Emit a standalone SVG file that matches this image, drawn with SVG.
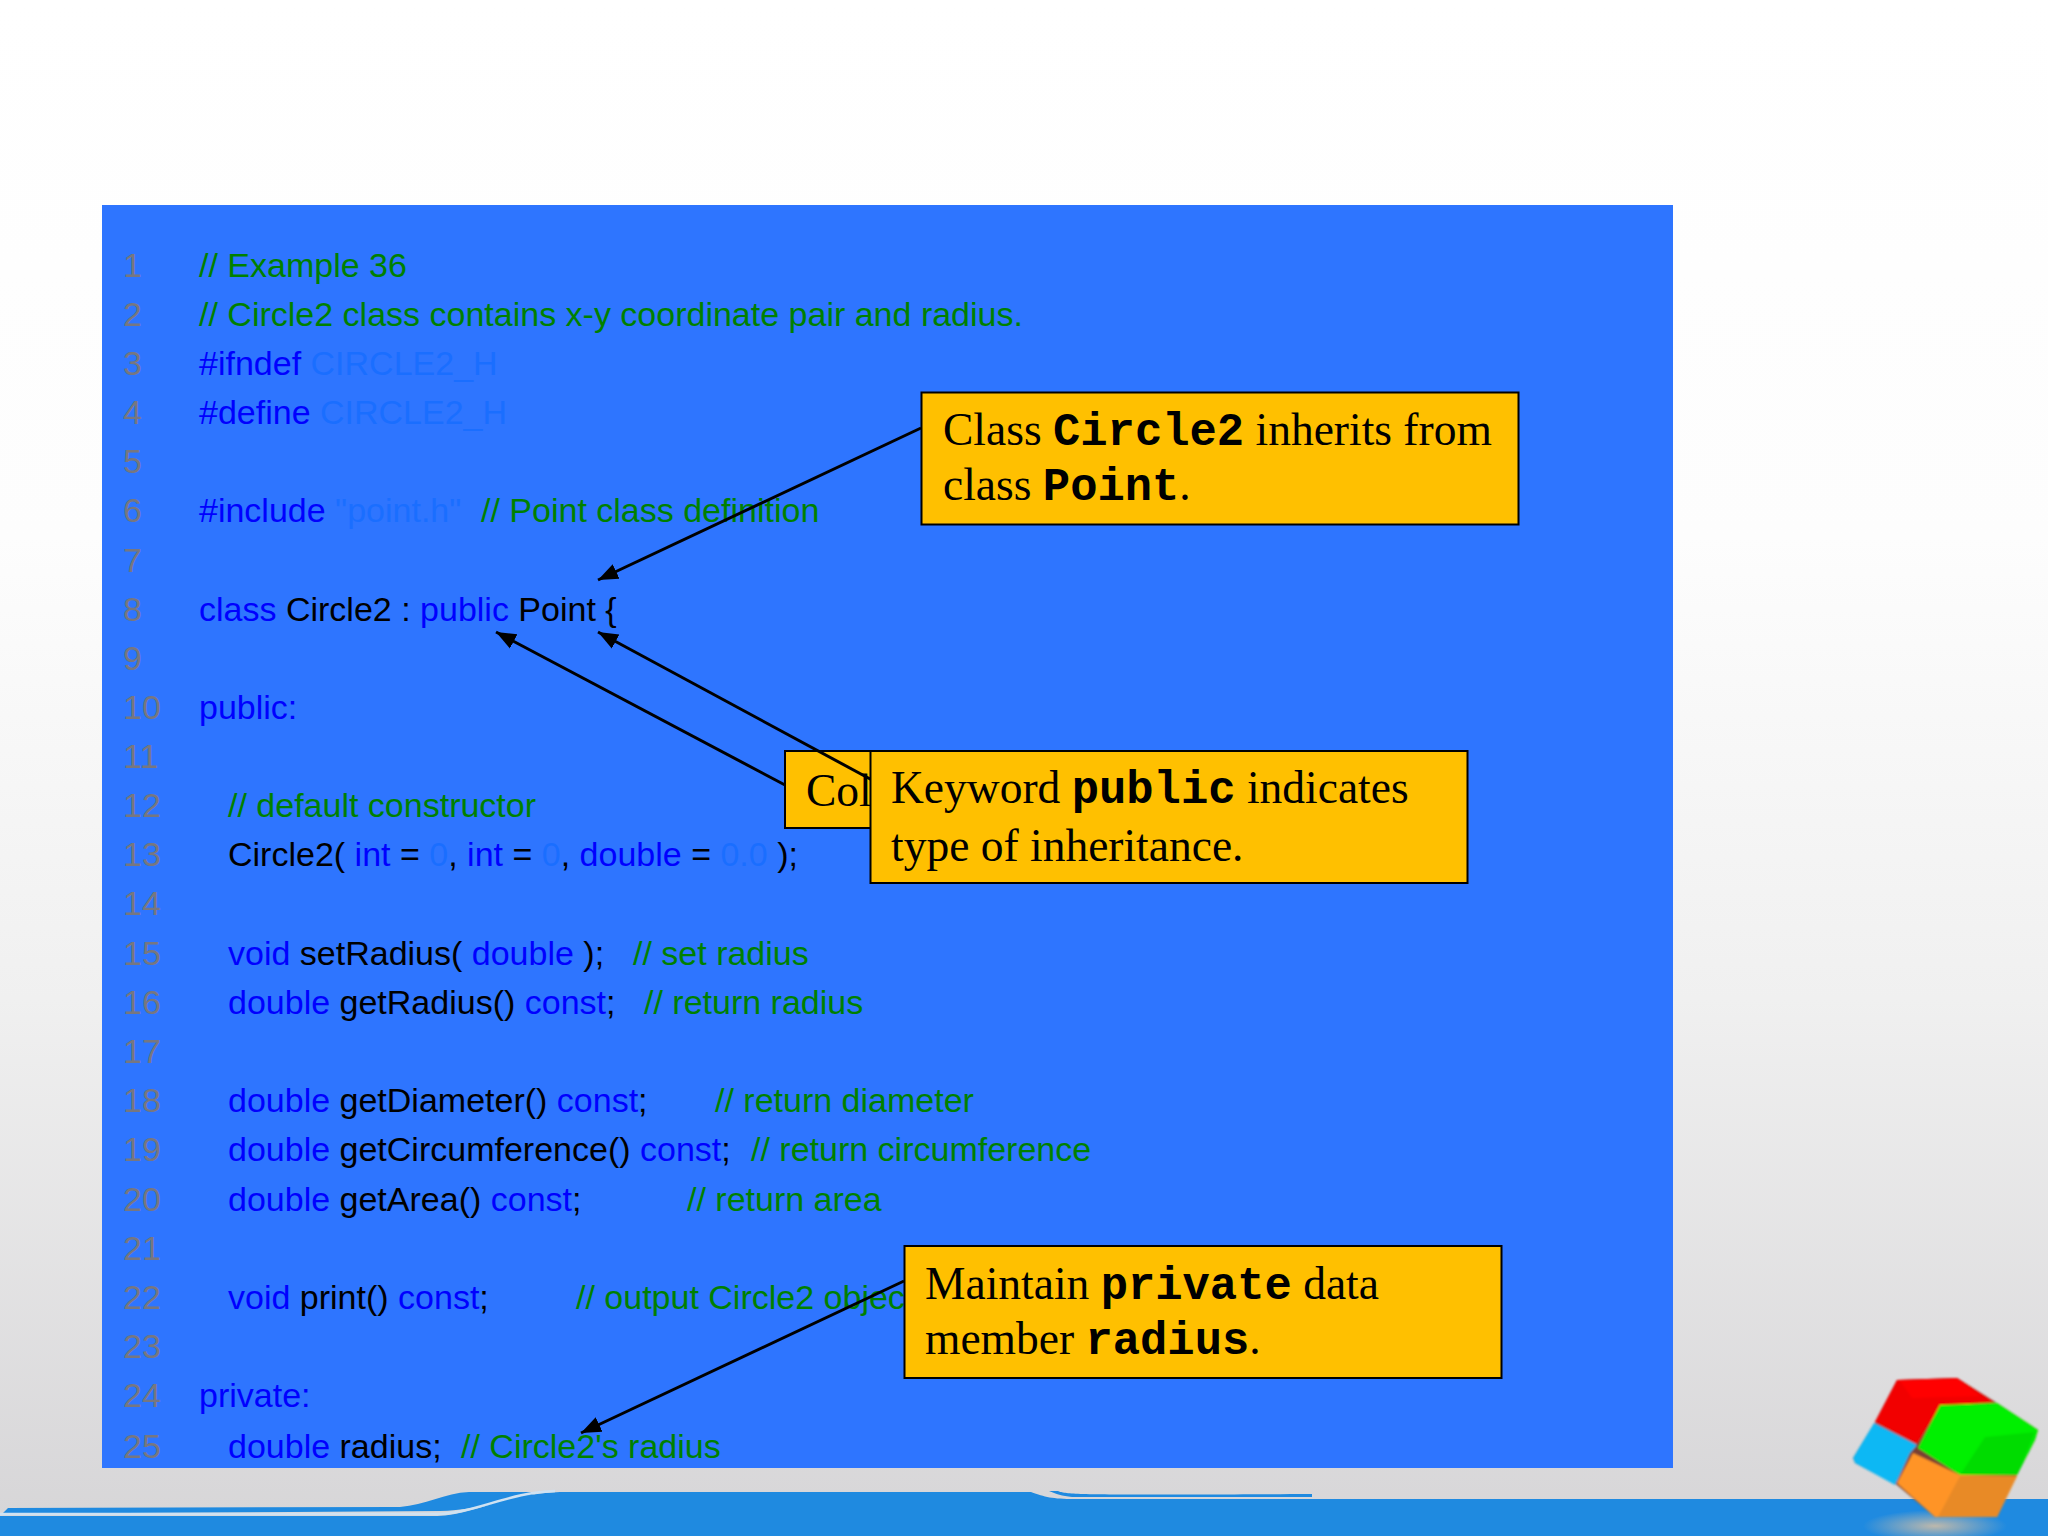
<svg xmlns="http://www.w3.org/2000/svg" width="2048" height="1536" viewBox="0 0 2048 1536">
<style>
.code{font-family:"Liberation Sans",Arial,sans-serif;font-size:34px;white-space:pre;fill:#000}
.n{fill:#777780}.k{fill:#0000ff}.c{fill:#008000}.h{fill:#1a6eff}
.box{fill:#ffc000;stroke:#000;stroke-width:2}
.t{font-family:"Liberation Serif","Times New Roman",serif;font-size:45.500px;fill:#000;white-space:pre}
.m{font-family:"Liberation Mono","Courier New",monospace;font-weight:bold;font-size:45.500px}
.line{stroke:#000;stroke-width:3;fill:none;marker-end:url(#arrow)}
</style>
<defs>
<marker id="arrow" markerUnits="userSpaceOnUse" markerWidth="22" markerHeight="18" refX="20" refY="9" orient="auto"><path d="M0 1L20 9L0 17Z" fill="#000"/></marker>
<linearGradient id="bg" x1="0" y1="0" x2="0" y2="1"><stop offset="0" stop-color="#fff"/><stop offset=".35" stop-color="#fdfdfd"/><stop offset=".65" stop-color="#f0f0f0"/><stop offset="1" stop-color="#d6d5d7"/></linearGradient>
<radialGradient id="sh"><stop offset="0" stop-color="#bdb8ac"/><stop offset="1" stop-color="#bdb8ac" stop-opacity="0"/></radialGradient>
<filter id="soft" x="-5%" y="-5%" width="110%" height="110%"><feGaussianBlur stdDeviation="1"/></filter>
</defs>
<rect id="background" width="2048" height="1536" fill="url(#bg)"/>
<g id="band">
<path fill="#1f8ae0" d="M0 1516L437 1516C470 1516 505 1494 560 1492L1031 1492C1045 1497 1052 1499 1075 1499L2048 1499V1536H0Z"/>
<path fill="#1f8ae0" d="M8 1508L400 1507C425 1505 445 1493 469 1492L540 1492C520 1500 470 1510 440 1511L125 1513L2 1514Z"/>
<path fill="#1f8ae0" d="M1049 1491L1058 1491C1066 1495 1090 1495 1312 1494L1312 1497L1072 1497C1062 1496 1056 1494 1049 1491Z"/>
<path fill="none" stroke="#cfe2f2" stroke-width="2.500" d="M0 1514L437 1514C472 1514 510 1492 555 1491"/>
</g>
<g id="cube">
<ellipse cx="1935" cy="1526" rx="72" ry="16" fill="url(#sh)"/>
<g filter="url(#soft)" stroke-linejoin="round">
<path fill="#7a4030" d="M1897 1380L1957 1378L1997 1403L2038 1430L2035 1440L2017 1475L1997 1517L1935 1517L1897 1485L1855 1463L1853 1458L1875 1422Z"/>
<path fill="#f20000" d="M1897 1380L1957 1378L1994 1402L1940 1406L1917 1444L1875 1422Z"/>
<path fill="#ff0000" d="M1900 1381L1957 1379L1980 1396L1912 1398Z"/>
<path fill="#00f000" d="M1940 1405L1997 1403L2038 1430L2035 1440L2017 1475L1960 1475L1918 1448Z"/>
<path fill="#00dc00" d="M1985 1437L2035 1432L2017 1475L1960 1475Z"/>
<path fill="#10b8f4" d="M1874 1423L1917 1445L1910 1453L1895 1485L1855 1463L1853 1458Z"/>
<path fill="#ff9428" d="M1913 1453L1960 1475L2017 1476L1997 1517L1935 1517L1897 1483Z"/>
<path fill="#e88a28" d="M1960 1476L2017 1476L1997 1517L1938 1517Z"/>
</g>
</g>
<rect id="code-panel" x="102" y="205" width="1571" height="1263" fill="#2e75ff"/>
<g id="code">
<text class="code n" x="123" y="277">1</text><text class="code c" x="199" y="277">// Example 36</text>
<text class="code n" x="123" y="326">2</text><text class="code c" x="199" y="326">// Circle2 class contains x-y coordinate pair and radius.</text>
<text class="code n" x="123" y="375">3</text><text class="code" x="199" y="375"><tspan class="k">#ifndef </tspan><tspan class="h">CIRCLE2_H</tspan></text>
<text class="code n" x="123" y="424">4</text><text class="code" x="199" y="424"><tspan class="k">#define </tspan><tspan class="h">CIRCLE2_H</tspan></text>
<text class="code n" x="123" y="473">5</text>
<text class="code n" x="123" y="522">6</text><text class="code" x="199" y="522"><tspan class="k">#include </tspan><tspan class="h">"point.h"</tspan><tspan class="c" x="481">// Point class definition</tspan></text>
<text class="code n" x="123" y="572">7</text>
<text class="code n" x="123" y="621">8</text><text class="code" x="199" y="621"><tspan class="k">class </tspan>Circle2 : <tspan class="k">public </tspan>Point {</text>
<text class="code n" x="123" y="670">9</text>
<text class="code n" x="123" y="719">10</text><text class="code k" x="199" y="719">public:</text>
<text class="code n" x="123" y="768">11</text>
<text class="code n" x="123" y="817">12</text><text class="code c" x="228" y="817">// default constructor</text>
<text class="code n" x="123" y="866">13</text><text class="code" x="228" y="866">Circle2( <tspan class="k">int</tspan> = <tspan class="h">0</tspan>, <tspan class="k">int</tspan> = <tspan class="h">0</tspan>, <tspan class="k">double</tspan> = <tspan class="h">0.0</tspan> );</text>
<text class="code n" x="123" y="915">14</text>
<text class="code n" x="123" y="965">15</text><text class="code" x="228" y="965"><tspan class="k">void </tspan>setRadius( <tspan class="k">double</tspan> );<tspan class="c" x="633">// set radius</tspan></text>
<text class="code n" x="123" y="1014">16</text><text class="code" x="228" y="1014"><tspan class="k">double </tspan>getRadius() <tspan class="k">const</tspan>;<tspan class="c" x="644">// return radius</tspan></text>
<text class="code n" x="123" y="1063">17</text>
<text class="code n" x="123" y="1112">18</text><text class="code" x="228" y="1112"><tspan class="k">double </tspan>getDiameter() <tspan class="k">const</tspan>;<tspan class="c" x="715">// return diameter</tspan></text>
<text class="code n" x="123" y="1161">19</text><text class="code" x="228" y="1161"><tspan class="k">double </tspan>getCircumference() <tspan class="k">const</tspan>;<tspan class="c" x="751">// return circumference</tspan></text>
<text class="code n" x="123" y="1211">20</text><text class="code" x="228" y="1211"><tspan class="k">double </tspan>getArea() <tspan class="k">const</tspan>;<tspan class="c" x="687">// return area</tspan></text>
<text class="code n" x="123" y="1260">21</text>
<text class="code n" x="123" y="1309">22</text><text class="code" x="228" y="1309"><tspan class="k">void </tspan>print() <tspan class="k">const</tspan>;<tspan class="c" x="576">// output Circle2 object</tspan></text>
<text class="code n" x="123" y="1358">23</text>
<text class="code n" x="123" y="1407">24</text><text class="code k" x="199" y="1407">private:</text>
<text class="code n" x="123" y="1458">25</text><text class="code" x="228" y="1458"><tspan class="k">double </tspan>radius;<tspan class="c" x="461">// Circle2's radius</tspan></text>
</g>
<g id="node-colon"><rect class="box" x="785" y="751" width="100" height="77"/><text class="t" x="806" y="806">Col</text></g>
<g id="connectors">
<line class="line" x1="921" y1="428" x2="598" y2="580"/>
<line class="line" x1="785" y1="785" x2="496" y2="632"/>
<line class="line" x1="872" y1="780" x2="598" y2="632"/>
<line class="line" x1="904" y1="1281" x2="581" y2="1433"/>
</g>
<g id="node-public"><rect class="box" x="870.500" y="751" width="597" height="132"/><text class="t" x="891" y="803">Keyword <tspan class="m">public</tspan> indicates</text><text class="t" x="891" y="861">type of inheritance.</text></g>
<g id="node-inherits"><rect class="box" x="921.500" y="392.500" width="597" height="132"/><text class="t" x="943" y="445">Class <tspan class="m">Circle2</tspan> inherits from</text><text class="t" x="943" y="500">class <tspan class="m">Point</tspan>.</text></g>
<g id="node-private"><rect class="box" x="904.500" y="1246" width="597" height="132"/><text class="t" x="925" y="1299">Maintain <tspan class="m">private</tspan> data</text><text class="t" x="925" y="1354">member <tspan class="m">radius</tspan>.</text></g>
</svg>
